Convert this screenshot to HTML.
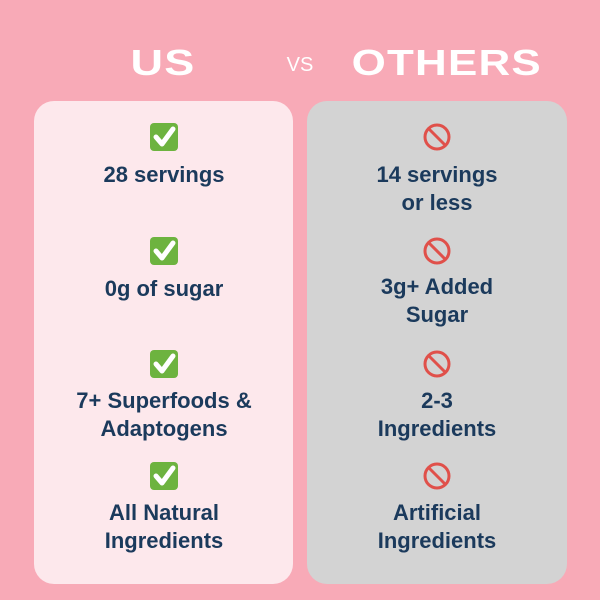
<!DOCTYPE html>
<html><head><style>
body{margin:0;width:600px;height:600px;background:#f8aab7;position:relative;overflow:hidden;font-family:"Liberation Sans","DejaVu Sans",sans-serif}
.t{position:absolute;color:#fff;font-weight:900;font-size:36px;letter-spacing:1px;text-align:center;transform:scaleX(1.25)}
.card{position:absolute;top:101px;height:483px;border-radius:20px}
.tx{position:absolute;width:260px;text-align:center;color:#1b3a5c;font-weight:bold;font-size:22px;line-height:28px}
.ic{position:absolute;width:28px;height:28px}
.ck{background:#6db33f;border-radius:4px}
</style></head><body>
<div class="t" style="left:113px;top:42px;width:100px">US</div>
<div style="position:absolute;left:270px;top:54px;width:60px;text-align:center;color:#fff;font-size:20px">VS</div>
<div class="t" style="left:367px;top:42px;width:140px;transform:scaleX(1.22)">OTHERS</div>
<div class="card" style="left:34px;width:259px;background:#fde8ec"></div>
<div class="card" style="left:307px;width:260px;background:#d3d3d3"></div>

<svg width="600" height="600" style="position:absolute;left:0;top:0">
<defs>
<g id="c"><rect x="-14" y="-14" width="28" height="28" rx="4" fill="#6db33f"/><path d="M-8 0 L-2 7 L9 -8" stroke="#fff" stroke-width="5" fill="none" stroke-linecap="round" stroke-linejoin="round"/></g>
<g id="n"><circle r="12" fill="none" stroke="#e0504a" stroke-width="3"/><line x1="-8.5" y1="-8.5" x2="8.5" y2="8.5" stroke="#e0504a" stroke-width="3"/></g>
</defs>
<use href="#c" x="164" y="137"/><use href="#c" x="164" y="251"/><use href="#c" x="164" y="364"/><use href="#c" x="164" y="476"/>
<use href="#n" x="437" y="137"/><use href="#n" x="437" y="251"/><use href="#n" x="437" y="364"/><use href="#n" x="437" y="476"/>
</svg>

<div class="tx" style="left:34px;top:161px">28 servings</div>
<div class="tx" style="left:34px;top:275px">0g of sugar</div>
<div class="tx" style="left:34px;top:387px">7+ Superfoods &amp;<br>Adaptogens</div>
<div class="tx" style="left:34px;top:499px">All Natural<br>Ingredients</div>

<div class="tx" style="left:307px;top:161px">14 servings<br>or less</div>
<div class="tx" style="left:307px;top:273px">3g+ Added<br>Sugar</div>
<div class="tx" style="left:307px;top:387px">2-3<br>Ingredients</div>
<div class="tx" style="left:307px;top:499px">Artificial<br>Ingredients</div>
</body></html>
